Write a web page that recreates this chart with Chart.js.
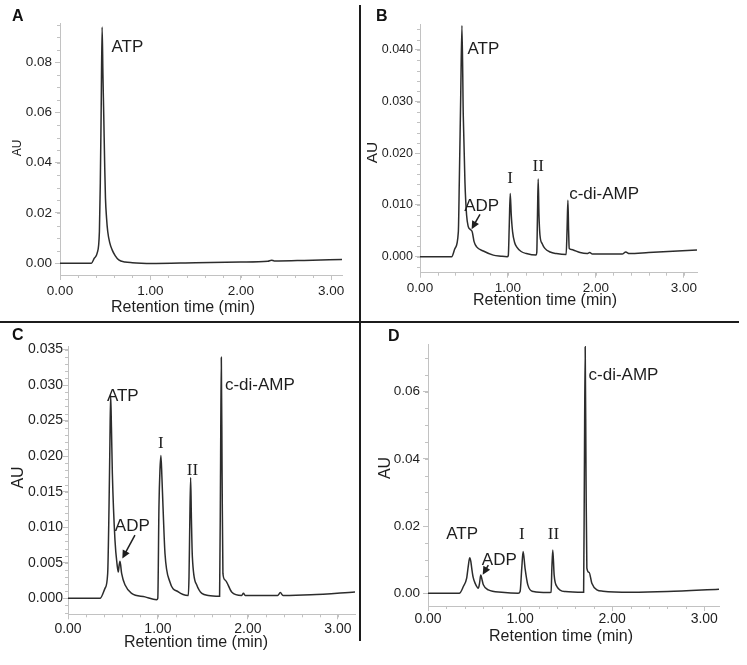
<!DOCTYPE html>
<html>
<head>
<meta charset="utf-8">
<script src="https://cdn.jsdelivr.net/npm/chart.js@4.4.1/dist/chart.umd.min.js"></script>
<style>
body { margin: 0; background: #fff; }
#fig { position: relative; width: 747px; height: 665px; overflow: hidden; background: #fff; }
#fig canvas { position: absolute; }
.tag { position: absolute; font: bold 16px/16px "Liberation Sans", Arial, sans-serif; color: #111; }
.rule { position: absolute; background: #1c1c1c; }
</style>
</head>
<body>
<div id="fig">
  <canvas id="chartA" width="358" height="320" style="left:0;top:0"></canvas>
  <canvas id="chartB" width="385" height="320" style="left:362px;top:0"></canvas>
  <canvas id="chartC" width="358" height="339" style="left:0;top:326px"></canvas>
  <canvas id="chartD" width="385" height="339" style="left:362px;top:326px"></canvas>
  <div class="rule" style="left:359px;top:5px;width:2px;height:636px"></div>
  <div class="rule" style="left:0;top:321px;width:739px;height:2px"></div>
  <div class="tag" style="left:12px;top:8px">A</div>
  <div class="tag" style="left:376px;top:8px">B</div>
  <div class="tag" style="left:12px;top:327px">C</div>
  <div class="tag" style="left:388px;top:328px">D</div>
</div>
<script>
// retention time (min) and absorbance (AU)
var timeA = [0, 0.348, 0.38, 0.411, 0.436, 0.446, 0.455, 0.466, 0.475, 0.484, 0.495, 0.503, 0.515, 0.528, 0.55, 0.577, 0.61, 0.65, 0.72, 0.8, 0.9, 1.0, 1.5, 2.0, 2.3, 2.34, 2.37, 2.42, 2.7, 3.12];
var auA   = [0, 0, 0.002, 0.004, 0.0126, 0.032, 0.059, 0.094, 0.075, 0.059, 0.038, 0.0259, 0.018, 0.0126, 0.0082, 0.0053, 0.003, 0.0013, 0.0005, 0.0002, 0, -0.0001, 0.0002, 0.0005, 0.0008, 0.0012, 0.0009, 0.0009, 0.0011, 0.0015];

var timeB = [0, 0.36, 0.398, 0.436, 0.447, 0.4625, 0.477, 0.492, 0.511, 0.53, 0.549, 0.57, 0.594, 0.615, 0.644, 0.72, 0.833, 0.92, 0.99, 1.004, 1.015, 1.026, 1.038, 1.053, 1.075, 1.099, 1.15, 1.21, 1.32, 1.328, 1.336, 1.344, 1.353, 1.364, 1.39, 1.42, 1.48, 1.55, 1.662, 1.672, 1.682, 1.69, 1.697, 1.72, 1.742, 1.82, 1.9, 1.93, 1.96, 2.1, 2.3, 2.34, 2.38, 2.6, 3.15];
var auB   = [0, 0, 0.0016, 0.0048, 0.0145, 0.0305, 0.0447, 0.0274, 0.0145, 0.008, 0.0058, 0.0053, 0.0048, 0.0029, 0.0019, 0.0011, 0.0003, 0.0001, 0, 0.0002, 0.006, 0.0122, 0.008, 0.0048, 0.0028, 0.0019, 0.001, 0.0006, 0.0003, 0.0008, 0.008, 0.015, 0.008, 0.0042, 0.0025, 0.0016, 0.0009, 0.0006, 0.0004, 0.005, 0.0109, 0.005, 0.0016, 0.0014, 0.0013, 0.0008, 0.0006, 0.0008, 0.0005, 0.0005, 0.0005, 0.0009, 0.0006, 0.0008, 0.0013];

var timeC = [0, 0.356, 0.411, 0.441, 0.456, 0.465, 0.474, 0.483, 0.493, 0.522, 0.548, 0.559, 0.568, 0.578, 0.596, 0.633, 0.707, 0.856, 0.985, 0.998, 1.011, 1.022, 1.033, 1.044, 1.056, 1.078, 1.133, 1.226, 1.337, 1.345, 1.353, 1.363, 1.372, 1.382, 1.43, 1.559, 1.685, 1.695, 1.704, 1.713, 1.722, 1.744, 1.819, 1.93, 1.95, 1.97, 2.1, 2.33, 2.36, 2.39, 2.7, 3.19];
var auC   = [0, 0, 0.0014, 0.0035, 0.0129, 0.021, 0.0286, 0.024, 0.0176, 0.0082, 0.0045, 0.0037, 0.0046, 0.0052, 0.0035, 0.0019, 0.0007, 0.0002, -0.0002, 0, 0.0129, 0.018, 0.0201, 0.017, 0.0129, 0.0063, 0.0023, 0.0009, 0.0004, 0.003, 0.01, 0.017, 0.011, 0.0059, 0.0019, 0.0004, 0.0003, 0.017, 0.0339, 0.017, 0.0035, 0.0026, 0.0009, 0.0004, 0.0007, 0.0004, 0.0004, 0.0004, 0.0008, 0.0004, 0.0005, 0.0009];

var timeD = [0, 0.34, 0.384, 0.42, 0.437, 0.453, 0.465, 0.475, 0.49, 0.511, 0.547, 0.56, 0.573, 0.587, 0.601, 0.655, 0.8, 0.98, 1.0, 1.018, 1.033, 1.054, 1.084, 1.145, 1.3, 1.337, 1.345, 1.355, 1.37, 1.4, 1.49, 1.69, 1.698, 1.707, 1.716, 1.725, 1.75, 1.779, 1.834, 1.9, 2.2, 2.6, 3.16];
var auD   = [0, 0, 0.002, 0.0045, 0.008, 0.0106, 0.0095, 0.0074, 0.0048, 0.003, 0.0015, 0.003, 0.0054, 0.004, 0.0025, 0.001, 0.0003, 0, 0.0005, 0.0074, 0.0124, 0.0074, 0.0025, 0.0005, 0.0002, 0.0003, 0.0074, 0.0129, 0.0054, 0.002, 0.0005, 0.0003, 0.035, 0.0734, 0.035, 0.0075, 0.0062, 0.003, 0.001, 0.0006, 0.0003, 0.0005, 0.0012];

// tick labels
var xTicks = [0, 1, 2, 3];
var xLabels = ['0.00', '1.00', '2.00', '3.00'];
var yTicksA = [0, 0.02, 0.04, 0.06, 0.08];
var yLabelsA = ['0.00', '0.02', '0.04', '0.06', '0.08'];
var yTicksB = [0, 0.01, 0.02, 0.03, 0.04];
var yLabelsB = ['0.000', '0.010', '0.020', '0.030', '0.040'];
var yTicksC = [0, 0.005, 0.01, 0.015, 0.02, 0.025, 0.03, 0.035];
var yLabelsC = ['0.000', '0.005', '0.010', '0.015', '0.020', '0.025', '0.030', '0.035'];
var yTicksD = [0, 0.02, 0.04, 0.06];
var yLabelsD = ['0.00', '0.02', '0.04', '0.06'];

// peak names: [text, time, AU, serif]
var notesA = [['ATP', 0.746, 0.0861]];
var notesB = [['ATP', 0.72, 0.0401], ['ADP', 0.701, 0.0098], ['I', 1.023, 0.0151, 1], ['II', 1.344, 0.01745, 1], ['c-di-AMP', 2.094, 0.0121]];
var notesC = [['ATP', 0.609, 0.0284], ['ADP', 0.715, 0.0102], ['I', 1.033, 0.0218, 1], ['II', 1.383, 0.018, 1], ['c-di-AMP', 2.133, 0.02997]];
var notesD = [['ATP', 0.37, 0.0176], ['ADP', 0.774, 0.0099], ['I', 1.018, 0.0174, 1], ['II', 1.362, 0.0174, 1], ['c-di-AMP', 2.123, 0.0648]];
// arrows to the ADP peak: [fromTime, fromAU, toTime, toAU]
var arrowB = [0.682, 0.0082, 0.587, 0.0053];
var arrowC = [0.744, 0.0089, 0.604, 0.0056];
var arrowD = [0.655, 0.0084, 0.594, 0.0055];

var SANS = '"Liberation Sans", Arial, sans-serif';
var SERIF = '"Liberation Serif", "Times New Roman", serif';
var AXIS = '#c2c2c2';
var INK = '#1e1e1e';

function panelPlugin(p) {
  return {
    id: 'panel' + p.id,
    afterDraw: function(chart) {
      var ctx = chart.ctx, x = chart.scales.x, y = chart.scales.y;
      ctx.save();
      // minor ticks
      ctx.strokeStyle = AXIS;
      ctx.lineWidth = 1;
      ctx.beginPath();
      for (var v = Math.ceil(y.min / p.yMinor) * p.yMinor; v <= y.max; v += p.yMinor) {
        var py = Math.round(y.getPixelForValue(v)) + 0.5;
        ctx.moveTo(x.left - 3, py); ctx.lineTo(x.left, py);
      }
      for (var t = 0; t <= x.max + 1e-9; t += 0.2) {
        var px = Math.round(x.getPixelForValue(t)) + 0.5;
        ctx.moveTo(px, y.bottom); ctx.lineTo(px, y.bottom + 3);
      }
      ctx.stroke();

      // axis titles
      ctx.fillStyle = INK;
      ctx.textAlign = 'center';
      ctx.textBaseline = 'middle';
      ctx.font = '16px ' + SANS;
      ctx.fillText('Retention time (min)', p.xTitle[0], p.xTitle[1]);
      ctx.save();
      ctx.translate(p.yTitle[0], p.yTitle[1]);
      ctx.rotate(-Math.PI / 2);
      ctx.font = p.yTitle[2] + 'px ' + SANS;
      ctx.fillText('AU', 0, 0);
      ctx.restore();

      // peak names
      p.notes.forEach(function(n) {
        ctx.font = n[3] ? '17px ' + SERIF : '17px ' + SANS;
        ctx.fillText(n[0], x.getPixelForValue(n[1]), y.getPixelForValue(n[2]));
      });

      // arrow
      if (p.arrow) {
        var x1 = x.getPixelForValue(p.arrow[0]), y1 = y.getPixelForValue(p.arrow[1]);
        var x2 = x.getPixelForValue(p.arrow[2]), y2 = y.getPixelForValue(p.arrow[3]);
        var a = Math.atan2(y2 - y1, x2 - x1), head = 9;
        ctx.strokeStyle = INK;
        ctx.lineWidth = 1.5;
        ctx.beginPath();
        ctx.moveTo(x1, y1);
        ctx.lineTo(x2 - Math.cos(a) * head * 0.8, y2 - Math.sin(a) * head * 0.8);
        ctx.stroke();
        ctx.beginPath();
        ctx.moveTo(x2, y2);
        ctx.lineTo(x2 - head * Math.cos(a - 0.45), y2 - head * Math.sin(a - 0.45));
        ctx.lineTo(x2 - head * Math.cos(a + 0.45), y2 - head * Math.sin(a + 0.45));
        ctx.closePath();
        ctx.fill();
      }
      ctx.restore();
    }
  };
}

function makePanel(p) {
  var pts = p.time.map(function(t, i) { return {x: t, y: p.au[i]}; });
  return new Chart(document.getElementById('chart' + p.id), {
    type: 'line',
    data: {
      datasets: [{
        data: pts,
        borderColor: '#2c2c2c',
        borderWidth: 1.5,
        pointRadius: 0,
        cubicInterpolationMode: 'monotone',
        fill: false
      }]
    },
    options: {
      responsive: false,
      animation: false,
      devicePixelRatio: 1,
      layout: { padding: { left: 0, top: p.top, right: p.right, bottom: 0 } },
      plugins: { legend: { display: false }, tooltip: { enabled: false } },
      scales: {
        x: {
          type: 'linear',
          min: 0,
          max: p.xMax,
          afterBuildTicks: function(s) { s.ticks = xTicks.map(function(v) { return {value: v}; }); },
          afterFit: function(s) { s.height = p.xHeight; },
          ticks: {
            callback: function(v, i) { return xLabels[i]; },
            font: { family: SANS, size: p.xFont },
            color: INK,
            padding: p.xPad,
            maxRotation: 0
          },
          grid: { drawOnChartArea: false, tickLength: 5, tickColor: AXIS },
          border: { color: AXIS }
        },
        y: {
          min: p.yMin,
          max: p.yMax,
          afterBuildTicks: function(s) { s.ticks = p.yTicks.map(function(v) { return {value: v}; }); },
          afterFit: function(s) { s.width = p.yWidth; },
          ticks: {
            callback: function(v, i) { return p.yLabels[i]; },
            font: { family: SANS, size: p.yFont },
            color: INK,
            padding: p.yPad
          },
          grid: { drawOnChartArea: false, tickLength: 5, tickColor: AXIS },
          border: { color: AXIS }
        }
      }
    },
    plugins: [panelPlugin(p)]
  });
}

makePanel({ id: 'A', time: timeA, au: auA, yTicks: yTicksA, yLabels: yLabelsA, notes: notesA,
  xMax: 3.12, yMin: -0.0047, yMax: 0.0956, yMinor: 0.005,
  top: 23, right: 16, yWidth: 60, xHeight: 45, xFont: 13.5, yFont: 13.5, xPad: 3, yPad: 3,
  xTitle: [183, 307.5], yTitle: [17.5, 148, 12] });

makePanel({ id: 'B', time: timeB, au: auB, yTicks: yTicksB, yLabels: yLabelsB, notes: notesB, arrow: arrowB,
  xMax: 3.15, yMin: -0.0031, yMax: 0.045, yMinor: 0.002,
  top: 24, right: 50, yWidth: 58, xHeight: 47.3, xFont: 13.5, yFont: 12.5, xPad: 2, yPad: 2,
  xTitle: [183, 301], yTitle: [11, 152.5, 15.5] });

makePanel({ id: 'C', time: timeC, au: auC, yTicks: yTicksC, yLabels: yLabelsC, notes: notesC, arrow: arrowC,
  xMax: 3.19, yMin: -0.00225, yMax: 0.0355, yMinor: 0.001,
  top: 20, right: 3, yWidth: 68, xHeight: 50.7, xFont: 14, yFont: 14, xPad: 1, yPad: 0,
  xTitle: [196, 316.5], yTitle: [18.3, 151.5, 16] });

makePanel({ id: 'D', time: timeD, au: auD, yTicks: yTicksD, yLabels: yLabelsD, notes: notesD, arrow: arrowD,
  xMax: 3.16, yMin: -0.0038, yMax: 0.0742, yMinor: 0.005,
  top: 18, right: 28, yWidth: 66, xHeight: 59, xFont: 14, yFont: 13.5, xPad: 0, yPad: 3,
  xTitle: [199, 310.7], yTitle: [23.8, 142, 16] });
</script>
</body>
</html>
